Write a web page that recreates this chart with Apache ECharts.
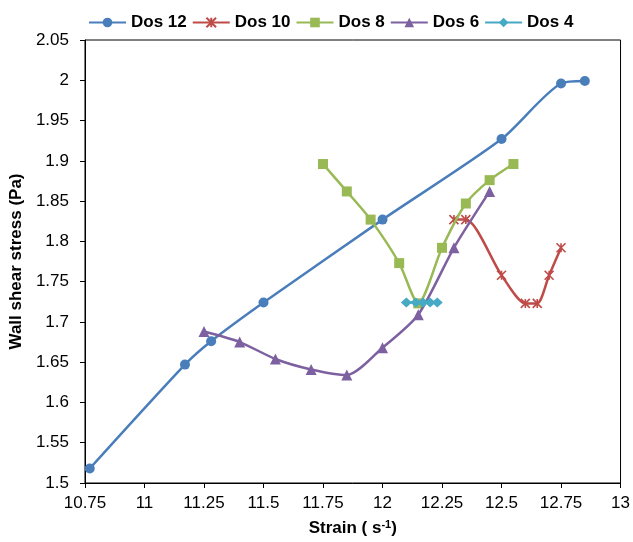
<!DOCTYPE html>
<html>
<head>
<meta charset="utf-8">
<script src="https://cdn.jsdelivr.net/npm/echarts@6/dist/echarts.min.js"></script>
<style>html,body{margin:0;padding:0;background:#fff}#c{width:633px;height:542px}</style>
</head>
<body>
<div id="c"></div>
<script>
const seriesNames = ['Dos 12', 'Dos 10', 'Dos 8', 'Dos 6', 'Dos 4'];

const dos12X = [10.77, 11.17, 11.28, 11.5, 12.0, 12.5, 12.75, 12.85];
const dos12Y = [1.518, 1.647, 1.676, 1.724, 1.827, 1.927, 1.996, 1.999];

const dos10X = [12.3, 12.35, 12.5, 12.6, 12.65, 12.7, 12.75];
const dos10Y = [1.827, 1.827, 1.758, 1.723, 1.723, 1.758, 1.792];

const dos8X = [11.75, 11.85, 11.95, 12.07, 12.15, 12.25, 12.35, 12.45, 12.55];
const dos8Y = [1.896, 1.862, 1.827, 1.773, 1.723, 1.792, 1.847, 1.876, 1.896];

const dos6X = [11.25, 11.4, 11.55, 11.7, 11.85, 12.0, 12.15, 12.3, 12.45];
const dos6Y = [1.688, 1.675, 1.654, 1.641, 1.634, 1.668, 1.709, 1.792, 1.862];

const dos4X = [12.1, 12.14, 12.17, 12.2, 12.23];
const dos4Y = [1.724, 1.724, 1.724, 1.724, 1.724];

const colors = ['#4A7EBB', '#BE4B48', '#98B954', '#7D60A0', '#46AAC5'];
const FONT = 'Liberation Sans, Arial, sans-serif';

function zip(xs, ys) { return xs.map((x, i) => [x, ys[i]]); }

const xsAll = [dos12X, dos10X, dos8X, dos6X, dos4X];
const ysAll = [dos12Y, dos10Y, dos8Y, dos6Y, dos4Y];
const symbols = ['circle', 'path://M0,0L10,10M10,0L0,10M5,0L5,10', 'rect', 'triangle', 'diamond'];
const symbolSizes = [10, 9, 10, 11, [11, 10]];

const chart = echarts.init(document.getElementById('c'), null, {renderer: 'canvas'});
chart.setOption({
  animation: false,
  color: colors,
  textStyle: {fontFamily: FONT},
  legend: {
    left: 83, top: 9,
    itemWidth: 37, itemHeight: 12, itemGap: 5,
    textStyle: {fontFamily: FONT, fontSize: 17, fontWeight: 'bold', color: '#000'},
    data: seriesNames
  },
  grid: {
    left: 82, right: 11, top: 40, bottom: 59,
    show: true, borderColor: '#000', borderWidth: 1, containLabel: false
  },
  xAxis: {
    type: 'value', min: 10.75, max: 13, interval: 0.25,
    name: 'Strain ( s{sup|-1})', nameLocation: 'middle', nameGap: 36,
    nameTextStyle: {fontFamily: FONT, fontSize: 17, fontWeight: 'bold', color: '#000',
      rich: {sup: {fontSize: 11, fontWeight: 'bold', fontFamily: FONT, verticalAlign: 'top', padding: [0, 0, 8, 0]}}},
    axisLine: {lineStyle: {color: '#000', width: 1}},
    axisTick: {show: true, length: 5, lineStyle: {color: '#000'}},
    axisLabel: {fontFamily: FONT, fontSize: 17, color: '#000', margin: 12},
    splitLine: {show: false}
  },
  yAxis: {
    type: 'value', min: 1.5, max: 2.05, interval: 0.05,
    name: 'Wall shear stress (Pa)', nameLocation: 'middle', nameGap: 54,
    nameTextStyle: {fontFamily: FONT, fontSize: 17, fontWeight: 'bold', color: '#000'},
    axisLine: {show: true, lineStyle: {color: '#000', width: 1}},
    axisTick: {show: true, length: 5, lineStyle: {color: '#000'}},
    axisLabel: {fontFamily: FONT, fontSize: 17, color: '#000', margin: 16},
    splitLine: {show: false}
  },
  series: seriesNames.map((n, i) => ({
    name: n,
    type: 'line',
    smooth: 0.25,
    data: zip(xsAll[i], ysAll[i]),
    symbol: symbols[i],
    symbolSize: symbolSizes[i],
    showAllSymbol: true,
    lineStyle: {color: colors[i], width: 2.5},
    itemStyle: i === 1
      ? {color: 'rgba(0,0,0,0)', borderColor: colors[i], borderWidth: 1.6}
      : {color: colors[i], borderWidth: 0},
    z: 2 + i
  }))
});
</script>
</body>
</html>
